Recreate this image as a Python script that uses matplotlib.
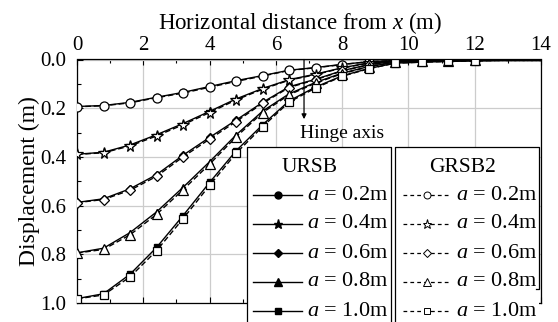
import matplotlib
matplotlib.use("Agg")
import matplotlib.pyplot as plt
from matplotlib.lines import Line2D
from matplotlib.ticker import MultipleLocator

plt.rcParams['font.family'] = ['Liberation Serif', 'DejaVu Serif']
plt.rcParams['mathtext.fontset'] = 'custom'
plt.rcParams['mathtext.rm'] = 'Liberation Serif'
plt.rcParams['mathtext.it'] = 'Liberation Serif:italic'

# horizontal distance (m)
x = [0, 0.8, 1.6, 2.4, 3.2, 4.0, 4.8, 5.6, 6.4, 7.2, 8.0, 8.8, 9.6,
     10.4, 11.2, 12.0, 12.8, 13.6, 14.0]

labels = ['0.2m', '0.4m', '0.6m', '0.8m', '1.0m']
markers = ['o', '*', 'D', '^', 's']

# GRSB2 displacement (m)
grsb2 = [
    [0.194, 0.190, 0.178, 0.157, 0.138, 0.114, 0.090, 0.068, 0.045, 0.034,
     0.021, 0.009, 0.004, 0.003, 0.002, 0.002, 0.001, 0.001, 0.001],
    [0.390, 0.383, 0.355, 0.314, 0.268, 0.218, 0.166, 0.122, 0.085, 0.062,
     0.035, 0.015, 0.006, 0.004, 0.003, 0.002, 0.002, 0.002, 0.002],
    [0.588, 0.575, 0.537, 0.480, 0.400, 0.327, 0.255, 0.180, 0.115, 0.083,
     0.047, 0.022, 0.008, 0.005, 0.004, 0.003, 0.003, 0.003, 0.003],
    [0.795, 0.780, 0.720, 0.636, 0.535, 0.430, 0.318, 0.218, 0.145, 0.097,
     0.058, 0.030, 0.011, 0.007, 0.005, 0.004, 0.004, 0.004, 0.004],
    [0.983, 0.967, 0.893, 0.785, 0.654, 0.517, 0.385, 0.276, 0.175, 0.117,
     0.069, 0.038, 0.015, 0.011, 0.008, 0.006, 0.004, 0.004, 0.004],
]

# URSB displacement (m)
ursb = [
    [0.193, 0.189, 0.176, 0.155, 0.135, 0.111, 0.087, 0.066, 0.044, 0.033,
     0.020, 0.009, 0.004, 0.003, 0.002, 0.002, 0.001, 0.001, 0.001],
    [0.389, 0.381, 0.351, 0.309, 0.263, 0.213, 0.162, 0.119, 0.083, 0.060,
     0.034, 0.014, 0.006, 0.004, 0.003, 0.002, 0.002, 0.002, 0.002],
    [0.587, 0.572, 0.531, 0.473, 0.393, 0.320, 0.249, 0.176, 0.112, 0.081,
     0.046, 0.021, 0.008, 0.005, 0.004, 0.003, 0.003, 0.003, 0.003],
    [0.794, 0.775, 0.711, 0.626, 0.525, 0.420, 0.310, 0.212, 0.141, 0.094,
     0.056, 0.029, 0.011, 0.007, 0.005, 0.004, 0.004, 0.004, 0.004],
    [0.982, 0.962, 0.882, 0.772, 0.641, 0.505, 0.375, 0.268, 0.170, 0.113,
     0.067, 0.037, 0.015, 0.011, 0.008, 0.006, 0.004, 0.004, 0.004],
]

hinge_x = 6.85

W, H = 558, 322
fig = plt.figure(figsize=(W / 100, H / 100), dpi=100)
ax = fig.add_axes([77 / W, 1 - 303 / H, (541 - 77) / W, (303 - 59.5) / H])


def fx(px):
    return px / W


def fy(py):
    return 1 - py / H


ms = {'o': 6.5, '*': 8.5, 'D': 5.5, '^': 7, 's': 6}
marks = list(range(16))
for i in range(5):
    m = markers[i]
    ax.plot(x, ursb[i], '-', color='black', lw=1.0, marker=m, ms=ms[m] * 0.7,
            markevery=marks, mfc='black', mec='black', zorder=3)
    ax.plot(x, grsb2[i], color='black', lw=1.0, ls=(0, (4, 2)), marker=m,
            ms=ms[m], markevery=marks, mfc='white', mec='black', mew=0.9,
            zorder=4)

ax.set_xlim(0, 14)
ax.set_ylim(1.0, 0.0)
ax.xaxis.set_major_locator(MultipleLocator(2))
ax.xaxis.set_minor_locator(MultipleLocator(1))
ax.yaxis.set_major_locator(MultipleLocator(0.2))
ax.yaxis.set_minor_locator(MultipleLocator(0.1))
ax.set_yticks([0.0, 0.2, 0.4, 0.6, 0.8, 1.0])
ax.set_yticklabels(['0.0', '0.2', '0.4', '0.6', '0.8', '1.0'])
ax.xaxis.tick_top()
ax.tick_params(axis='both', which='both', direction='in', top=True,
               bottom=True, labelsize=15, width=0.8)
ax.tick_params(which='major', length=4)
ax.tick_params(which='minor', length=3)
ax.tick_params(axis='x', pad=3)
ax.tick_params(axis='y', pad=8)
ax.grid(True, which='major', color='#cccccc', lw=0.9)
ax.set_axisbelow(True)
for s in ax.spines.values():
    s.set_linewidth(0.9)

ax.xaxis.set_label_position('top')
ax.set_xlabel('Horizontal distance from $x$ (m)', fontsize=16.5, labelpad=5)
ax.xaxis.label.set_x((300 - 77) / (541 - 77))
ax.set_ylabel('Displacement (m)', fontsize=17, labelpad=0)

ax.annotate('', xy=(hinge_x, 0.245), xytext=(hinge_x, 0.0),
            arrowprops=dict(arrowstyle='-|>', color='black', lw=0.9,
                            mutation_scale=7, shrinkA=0, shrinkB=0),
            zorder=5)
ax.text(6.72, 0.305, 'Hinge axis', fontsize=14, ha='left', va='center')

# legend drawn as two boxed columns
box = dict(color='black', lw=0.9, transform=fig.transFigure, clip_on=False)
fig.add_artist(Line2D([fx(247), fx(247), fx(391), fx(391)],
                      [fy(330), fy(147), fy(147), fy(330)], **box))
fig.add_artist(Line2D([fx(395), fx(395), fx(539), fx(539), fx(536)],
                      [fy(330), fy(147), fy(147), fy(289), fy(289)], **box))
# white background behind legend
fig.patches.append(plt.Rectangle((fx(247), fy(330)), fx(539) - fx(247),
                                 fy(147) - fy(330), transform=fig.transFigure,
                                 facecolor='white', edgecolor='none',
                                 zorder=0))
fig.text(fx(310), fy(167), 'URSB', fontsize=15.5, ha='center', va='center')
fig.text(fx(463), fy(167), 'GRSB2', fontsize=15.5, ha='center', va='center')

lm = {'o': 5, '*': 6.5, 'D': 4.5, '^': 5.5, 's': 5}
for i in range(5):
    yy = fy(195 + 29 * i)
    m = markers[i]
    fig.add_artist(Line2D([fx(253), fx(278), fx(302)], [yy, yy, yy],
                          color='black', lw=1.0, marker=m, ms=lm[m],
                          markevery=[1], mfc='black', mec='black',
                          transform=fig.transFigure))
    fig.add_artist(Line2D([fx(403), fx(427), fx(448)], [yy, yy, yy],
                          color='black', lw=0.9, ls=(0, (3, 2.5)), marker=m,
                          ms=lm[m], markevery=[1], mfc='white', mec='black',
                          mew=0.7, transform=fig.transFigure))
    fig.text(fx(307), yy, '$a$ = ' + labels[i], fontsize=16, ha='left',
             va='center')
    fig.text(fx(456), yy, '$a$ = ' + labels[i], fontsize=16, ha='left',
             va='center')

fig.savefig('out.png', dpi=100)
